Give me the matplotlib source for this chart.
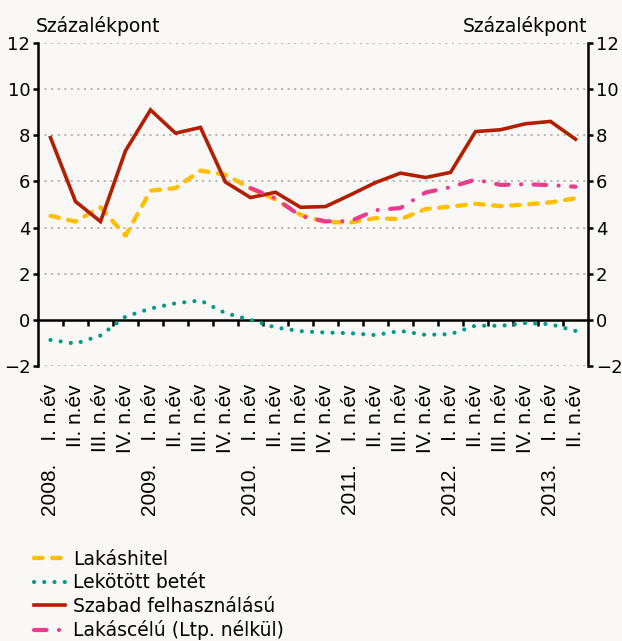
import numpy as np
import matplotlib
matplotlib.use("Agg")
import matplotlib.pyplot as plt

plt.rcParams['font.family'] = ['DejaVu Sans']

quarters = ["I. n.év", "II. n.év", "III. n.év", "IV. n.év"]
years = ["2008.", "2009.", "2010.", "2011.", "2012.", "2013."]
xlabels = []
for y in years:
    for qi, q in enumerate(quarters):
        xlabels.append(f"{y}    {q}" if qi == 0 else q)
xlabels = xlabels[:22]

lakashitel = [4.51, 4.26, 4.88, 3.65, 5.60, 5.71, 6.47, 6.29, 5.70, 5.22, 4.55, 4.24,
              4.22, 4.41, 4.36, 4.80, 4.91, 5.03, 4.93, 5.00, 5.09, 5.27]
lekotott = [-0.87, -1.03, -0.68, 0.14, 0.49, 0.72, 0.84, 0.29, 0.00, -0.33, -0.49, -0.55,
            -0.58, -0.66, -0.48, -0.65, -0.62, -0.25, -0.26, -0.14, -0.19, -0.48]
szabad = [7.90, 5.13, 4.26, 7.33, 9.10, 8.09, 8.34, 5.97, 5.30, 5.53, 4.88, 4.91,
          5.42, 5.95, 6.36, 6.17, 6.39, 8.16, 8.24, 8.50, 8.60, 7.83]
lakascelu = [np.nan] * 8 + [5.71, 5.27, 4.50, 4.27, 4.28, 4.75, 4.85, 5.52, 5.75, 6.08,
                            5.85, 5.88, 5.84, 5.77]

bg = '#f9f8f6'
fig = plt.figure(figsize=(6.22, 6.41), dpi=100, facecolor=bg)
ax = fig.add_axes([38/622, 1-366/641, 550/622, 323/641], facecolor=bg)

x = np.arange(len(xlabels))
l1, = ax.plot(x, lakashitel, color='#ffbf00', lw=3.1, dashes=(2.0, 2.2),
              dash_capstyle='round', label='Lakáshitel', zorder=3)
l2, = ax.plot(x, lekotott, color='#009a86', lw=3.0, dashes=(0.01, 2.45),
              dash_capstyle='round', label='Lekötött betét', zorder=3)
l3, = ax.plot(x, szabad, color='#b21f00', lw=2.6, label='Szabad felhasználású',
              solid_joinstyle='miter', zorder=4)
l4, = ax.plot(x, lakascelu, color='#ea3b8c', lw=3.0, dashes=(3.0, 3.0, 0.01, 3.0),
              dash_capstyle='round', label='Lakáscélú (Ltp. nélkül)', zorder=5)

ax.set_xlim(-0.5, len(xlabels) - 0.5)
ax.set_ylim(-2, 12)
yt = np.arange(-2, 13, 2)
ax.set_yticks(yt)
for v in yt:
    if v != 0:
        ax.axhline(v, color='#a0a0a0', lw=1.1, dashes=(1.3, 3.0), zorder=1)

for s in ['top']:
    ax.spines[s].set_visible(False)
for s in ['left', 'right', 'bottom']:
    ax.spines[s].set_linewidth(1.8)
    ax.spines[s].set_color('black')
ax.spines['bottom'].set_position(('data', 0))
ax.spines['bottom'].set_zorder(2)

ax.set_xticks(x)
ax.tick_params(axis='x', which='major', length=0, labelbottom=False)
ax.set_xticks(np.arange(0.5, len(xlabels) - 0.5, 1), minor=True)
ax.tick_params(axis='x', which='minor', length=4, width=1.8, direction='out')

ax.yaxis.set_ticks_position('both')
ax.tick_params(axis='y', which='major', length=3.5, width=1.8, direction='out',
               labelleft=True, labelright=True, labelsize=13, pad=2)

sec = ax.secondary_xaxis('bottom')
sec.set_xticks(x, labels=xlabels, rotation=90)
sec.tick_params(length=0, pad=13, labelsize=15)
for lab in sec.get_xticklabels():
    lab.set_family('Liberation Sans')
sec.spines['bottom'].set_visible(False)

fig.text(36/622, 1-32/641, 'Százalékpont', ha='left', va='baseline', fontsize=13.5)
fig.text(587/622, 1-32/641, 'Százalékpont', ha='right', va='baseline', fontsize=13.5)

fig.legend(handles=[l1, l2, l3, l4], loc='upper left', bbox_to_anchor=(34/622, 1-550/641),
           frameon=False, fontsize=13.5, handlelength=1.65, handletextpad=0.45,
           labelspacing=0.24, borderpad=0, borderaxespad=0)

fig.savefig('out.png', dpi=100, facecolor=bg)
